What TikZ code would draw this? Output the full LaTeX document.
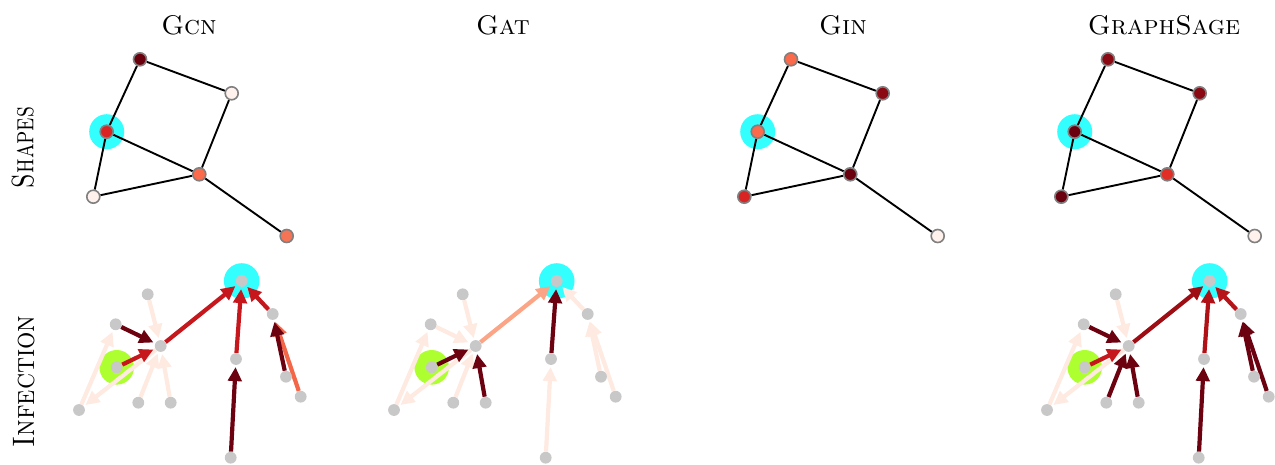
\documentclass[tikz,border=0pt]{standalone}
\usepackage{fontspec}
\usetikzlibrary{arrows.meta}
\pgfdeclarelayer{hl}
\pgfdeclarelayer{edges}
\pgfsetlayers{hl,edges,main}
\definecolor{hlcyan}{RGB}{51,255,255}
\definecolor{hlgreen}{RGB}{173,255,47}
\definecolor{nodegray}{RGB}{200,200,200}
\definecolor{rim}{RGB}{128,128,128}
\definecolor{vlight}{RGB}{255,242,236}
\definecolor{rdark}{RGB}{106,0,14}
\definecolor{rdeep}{RGB}{138,9,19}
\definecolor{rred}{RGB}{216,37,35}
\definecolor{rred2}{RGB}{224,46,38}
\definecolor{rcoral}{RGB}{251,106,74}
\definecolor{rcoral2}{RGB}{246,116,86}
\definecolor{elight}{RGB}{254,234,225}
\definecolor{ered}{RGB}{198,23,29}
\definecolor{edark}{RGB}{108,1,15}
\definecolor{ecoral}{RGB}{244,102,72}
\definecolor{esalmon}{RGB}{252,164,134}
\definecolor{edeep}{RGB}{158,13,20}
\definecolor{edeep2}{RGB}{175,17,23}
\definecolor{edeep3}{RGB}{182,20,25}
\tikzset{
  snode/.style={circle,draw=rim,line width=1.6pt,minimum size=13pt,inner sep=0pt},
  inode/.style={circle,fill=nodegray,minimum size=11.8pt,inner sep=0pt},
  sedge/.style={black,line width=1.9pt},
  iarrow/.style={line width=4.2pt,-{Triangle[length=14pt,width=13.5pt]},shorten >=2pt},
  coltitle/.style={anchor=base,font=\fontsize{27}{31}\selectfont},
  rowlabel/.style={anchor=base,rotate=90,font=\fontsize{31}{36}\selectfont},
}
\newcommand\shapegraph[8]{%
\begin{scope}[xshift=#2pt]
\node[snode,fill=#3] (#1A) at (140,59.3) {};
\node[snode,fill=#4] (#1B) at (231.7,93.3) {};
\node[snode,fill=#5] (#1C) at (106.7,131.7) {};
\node[snode,fill=#6] (#1D) at (93.3,196.7) {};
\node[snode,fill=#7] (#1E) at (199.3,174.3) {};
\node[snode,fill=#8] (#1F) at (286.7,236) {};
\begin{pgfonlayer}{hl}\fill[hlcyan] (#1C) circle (17.5pt);\end{pgfonlayer}
\begin{pgfonlayer}{edges}
\draw[sedge] (#1A)--(#1B) (#1A)--(#1C) (#1B)--(#1E) (#1C)--(#1E) (#1C)--(#1D) (#1D)--(#1E) (#1E)--(#1F);
\end{pgfonlayer}
\end{scope}}
\newcommand\infnodes[2]{%
\begin{scope}[xshift=#2pt]
\node[inode] (#1T) at (241.7,281) {};
\node[inode] (#1H) at (160.7,346) {};
\node[inode] (#1n1) at (147.7,294.3) {};
\node[inode] (#1n2) at (115.7,324.3) {};
\node[inode] (#1G) at (116.7,367.3) {};
\node[inode] (#1n3) at (79,410) {};
\node[inode] (#1n4) at (138.3,402.7) {};
\node[inode] (#1n5) at (170.7,402.7) {};
\node[inode] (#1m1) at (236,359) {};
\node[inode] (#1m2) at (230.7,457.7) {};
\node[inode] (#1r1) at (272.7,314) {};
\node[inode] (#1r2) at (286,376.7) {};
\node[inode] (#1r3) at (300.7,396.7) {};
\begin{pgfonlayer}{hl}
\fill[hlcyan] (#1T) circle (17.8pt);
\fill[hlgreen] (#1G) circle (17.3pt);
\end{pgfonlayer}
\end{scope}}
\newcommand\arr[3]{\draw[iarrow,#1] (#2)--(#3);}
\begin{document}
\begin{tikzpicture}[x=1pt,y=-1pt]
\useasboundingbox (0,0) rectangle (1275,464);
% titles
\node[coltitle] (t1) at (189,34.3) {\textsc{Gcn}};
\node[coltitle] (t2) at (503,34.3) {\textsc{Gat}};
\node[coltitle] (t3) at (843,34.3) {\textsc{Gin}};
\node[coltitle] (t4) at (1164,34.3) {\textsc{GraphSage}};
\node[rowlabel] (l1) at (33.3,147.5) {\scalebox{0.77}[1]{\textsc{Shapes}}};
\node[rowlabel] (l2) at (34.3,381.5) {\scalebox{0.88}[1]{\textsc{Infection}}};
% shapes row
\shapegraph{a}{0}{rdark}{vlight}{rred}{vlight}{rcoral}{rcoral2}
\shapegraph{c}{651}{rcoral}{rdeep}{rcoral}{rred}{rdark}{vlight}
\shapegraph{d}{968}{rdeep}{rdeep}{rdark}{rdark}{rred2}{vlight}
% infection row
\infnodes{p}{0}
\infnodes{q}{315}
\infnodes{s}{968}
\begin{pgfonlayer}{edges}
% GCN
\arr{elight}{pn3}{pn2}\arr{elight}{pH}{pn3}\arr{elight}{pn1}{pH}\arr{elight}{pn4}{pH}\arr{elight}{pn5}{pH}
\arr{edark}{pn2}{pH}\arr{edark}{pm2}{pm1}
\arr{ecoral}{pr3}{pr1}\arr{edark}{pr2}{pr1}
\arr{ered}{pG}{pH}\arr{ered}{pH}{pT}\arr{ered}{pm1}{pT}\arr{ered}{pr1}{pT}
% GAT
\arr{elight}{qn3}{qn2}\arr{elight}{qH}{qn3}\arr{elight}{qn1}{qH}\arr{elight}{qn2}{qH}\arr{elight}{qn4}{qH}
\arr{elight}{qr1}{qT}\arr{elight}{qm2}{qm1}\arr{elight}{qr2}{qr1}\arr{elight}{qr3}{qr1}
\arr{esalmon}{qH}{qT}
\arr{edark}{qG}{qH}\arr{edark}{qn5}{qH}\arr{edark}{qm1}{qT}
% GraphSage
\arr{elight}{sn3}{sn2}\arr{elight}{sH}{sn3}\arr{elight}{sn1}{sH}
\arr{edark}{sn2}{sH}\arr{edark}{sn4}{sH}\arr{edark}{sn5}{sH}
\arr{edark}{sm2}{sm1}\arr{edark}{sr2}{sr1}\arr{edark}{sr3}{sr1}
\arr{ered}{sG}{sH}\arr{edeep}{sH}{sT}\arr{edeep2}{sm1}{sT}\arr{edeep3}{sr1}{sT}
\end{pgfonlayer}
\end{tikzpicture}
\end{document}
